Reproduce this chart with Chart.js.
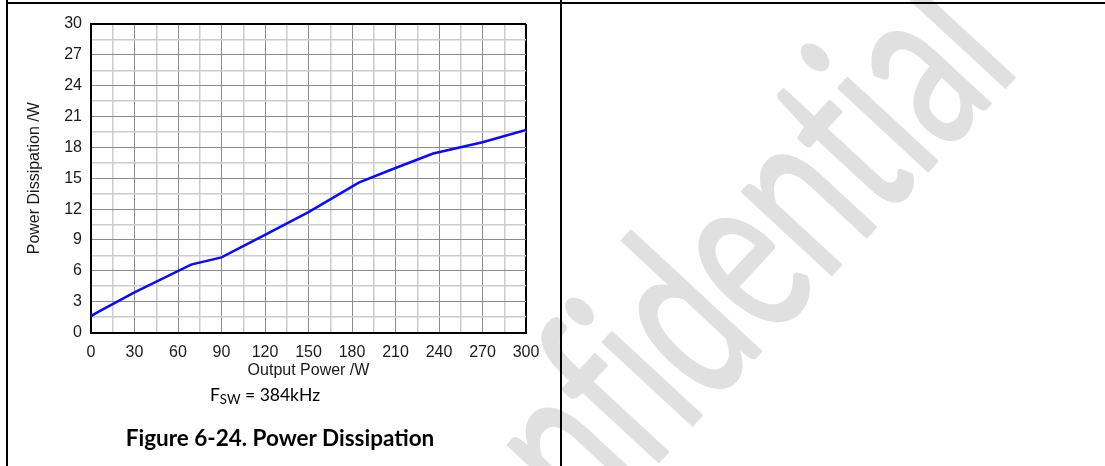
<!DOCTYPE html>
<html>
<head>
<meta charset="utf-8">
<title>Figure 6-24. Power Dissipation</title>
<script src="https://cdn.jsdelivr.net/npm/chart.js@4/dist/chart.umd.min.js"></script>
<style>
  html, body { margin: 0; padding: 0; background: #fff; }
  #page { position: relative; width: 1105px; height: 466px; overflow: hidden; }
  #watermark { position: absolute; left: 0; top: 0; z-index: 0; }
  #wmText { font-variant-ligatures: none; font-feature-settings: "liga" 0; }
  #chartBox { position: absolute; left: 0; top: 0; width: 560px; height: 385px; z-index: 1; }
  .rule { position: absolute; background: #000; z-index: 2; }
  .caption { position: absolute; z-index: 1; font-family: Lato, 'Open Sans', sans-serif; color: #000;
             white-space: nowrap; transform: translateX(-50%); line-height: 1; }
  #fsw { left: 265px; top: 386px; font-size: 17.5px; }
  #fsw sub { font-size: 0.75em; vertical-align: -0.2em; line-height: 0; }
  #figTitle { left: 280px; top: 427px; font-size: 22.5px; font-weight: bold; }
</style>
</head>
<body>
<div id="page">
  <svg id="watermark" width="1105" height="466">
    <text id="wmText" x="0" y="0" font-family="Lato, 'Open Sans', sans-serif" font-weight="normal"
          font-size="240" fill="#e0e0e0" stroke="#e0e0e0" stroke-width="3"
          stroke-linejoin="round">Confidential</text>
  </svg>
  <div id="chartBox"><canvas id="powerChart"></canvas></div>
  <div class="caption" id="fsw">F<sub>SW</sub> = 384kHz</div>
  <div class="caption" id="figTitle">Figure 6-24. Power Dissipation</div>
  <div class="rule" style="left:6px; top:2px; width:1099px; height:2px;"></div>
  <div class="rule" style="left:6px; top:0; width:2px; height:466px;"></div>
  <div class="rule" style="left:560px; top:0; width:2px; height:466px;"></div>
</div>
<script>
// values (W)
const outputPower = [0, 5, 30, 69, 90, 120, 150, 185, 210, 236, 270, 300];
const dissipation = [1.6, 2.0, 3.9, 6.6, 7.3, 9.5, 11.7, 14.6, 16.0, 17.4, 18.5, 19.7];

const xMin = 0, xMax = 300, xStep = 15, xLabelStep = 30;
const yMin = 0, yMax = 30, yStep = 1.5, yLabelStep = 3;

const xTitle = 'Output Power /W';
const yTitle = 'Power Dissipation /W';

// watermark: anchor the first "i" on its measured spot, then rotate
const wm = document.getElementById('wmText');
const pre = wm.getSubStringLength(0, 4) + wm.getSubStringLength(4, 1) / 2;
wm.setAttribute('transform', `translate(697,420) rotate(-47.2) scale(0.645,1) translate(${-pre},0)`);

const tickFont = { family: "'Liberation Sans', Arial, sans-serif", size: 16 };

function gridColor(ctx, max, labelStep) {
  const v = ctx.tick.value;
  if (v === max) return '#000';
  return v % labelStep === 0 ? '#8c8c8c' : '#cccccc';
}
function gridWidth(ctx, max, labelStep) {
  const v = ctx.tick.value;
  if (v === max) return 2;
  return v % labelStep === 0 ? 1 : 1.5;
}

const points = outputPower.map((x, i) => ({ x: x, y: dissipation[i] }));

new Chart(document.getElementById('powerChart'), {
  type: 'line',
  data: {
    datasets: [{
      data: points,
      borderColor: '#0a0aff',
      borderWidth: 2.5,
      pointRadius: 0,
      tension: 0,
      fill: false
    }]
  },
  options: {
    responsive: true,
    maintainAspectRatio: false,
    animation: false,
    layout: { padding: { left: 0, top: 24, right: 34, bottom: 0 } },
    plugins: { legend: { display: false }, tooltip: { enabled: false } },
    scales: {
      x: {
        type: 'linear',
        min: xMin,
        max: xMax,
        afterFit: (scale) => { scale.height = 52.5; },
        border: { color: '#000', width: 2 },
        grid: {
          drawTicks: false,
          color: (ctx) => gridColor(ctx, xMax, xLabelStep),
          lineWidth: (ctx) => gridWidth(ctx, xMax, xLabelStep)
        },
        ticks: {
          stepSize: xStep,
          autoSkip: false,
          maxRotation: 0,
          padding: 10,
          color: '#1a1a1a',
          font: tickFont,
          callback: (v) => (v % xLabelStep === 0 ? v : '')
        },
        title: {
          display: true,
          text: xTitle,
          color: '#1a1a1a',
          font: tickFont,
          padding: { top: 5, bottom: 5 }
        }
      },
      y: {
        type: 'linear',
        min: yMin,
        max: yMax,
        afterFit: (scale) => { scale.width = 91; },
        border: { color: '#000', width: 2 },
        grid: {
          drawTicks: false,
          color: (ctx) => gridColor(ctx, yMax, yLabelStep),
          lineWidth: (ctx) => gridWidth(ctx, yMax, yLabelStep)
        },
        ticks: {
          stepSize: yStep,
          autoSkip: false,
          padding: 9,
          color: '#1a1a1a',
          font: tickFont,
          callback: (v) => (v % yLabelStep === 0 ? v : '')
        },
        title: {
          display: true,
          text: yTitle,
          color: '#1a1a1a',
          font: tickFont,
          padding: { top: 25, bottom: 0 }
        }
      }
    }
  }
});
</script>
</body>
</html>
